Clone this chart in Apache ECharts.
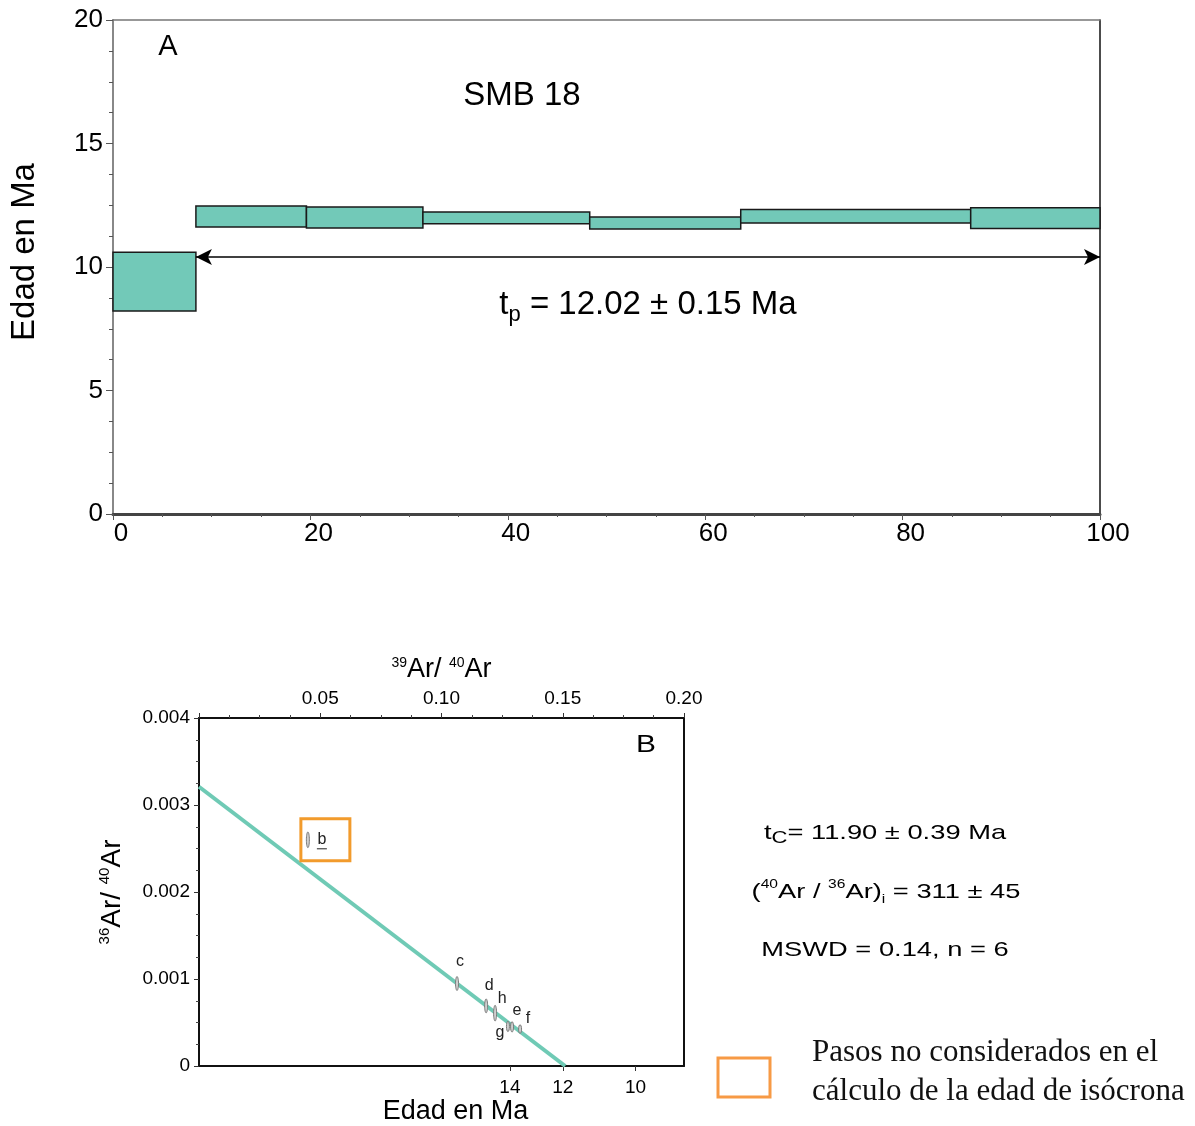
<!DOCTYPE html>
<html><head><meta charset="utf-8">
<script src="https://cdn.jsdelivr.net/npm/echarts@6/dist/echarts.min.js"></script>
<style>html,body{margin:0;padding:0;background:#fff}#c{width:1195px;height:1126px}</style>
</head><body><div id="c"></div>
<script>
// ---------- Panel A: age spectrum (cumulative %39Ar vs age) ----------
const stepStart = [0, 8.4, 19.6, 31.4, 48.3, 63.6, 86.9];
const stepEnd   = [8.4, 19.6, 31.4, 48.3, 63.6, 86.9, 100];
const ageLow    = [8.22, 11.62, 11.58, 11.75, 11.54, 11.78, 11.56];
const ageHigh   = [10.60, 12.47, 12.43, 12.23, 12.02, 12.33, 12.40];
const plateauFrom = 8.4;
const plateauTo = 100;
const plateauArrowAge = 10.4;

// ---------- Panel B: inverse isochron ----------
const stepLabels = ['b', 'c', 'd', 'h', 'g', 'e', 'f'];
const ar39ar40   = [0.0449, 0.1064, 0.1184, 0.1221, 0.1274, 0.1291, 0.1324];
const ar36ar40   = [0.00260, 0.000948, 0.000691, 0.000607, 0.000455, 0.000450, 0.000424];
const err39      = [0.0006, 0.0006, 0.0006, 0.0006, 0.0006, 0.0006, 0.0006];
const err36      = [0.00009, 0.00008, 0.00008, 0.00009, 0.00006, 0.00006, 0.00005];
const excludedSteps = ['b'];
const isochronX = [0, 0.151];
const isochronY = [0.00321, 0];
const ageTickLabels = ['14', '12', '10'];
const ageTickRatios = [0.1282, 0.150, 0.180];

const FONT = 'Liberation Sans, Arial, sans-serif';
const TEAL = '#72c9b8';

// label placement (pixel offsets from ellipse centre)
const labelOffset = { b: [14, 0], c: [3, -22], d: [3, -20], h: [7, -15], g: [-8, 6], e: [5, -16], f: [8, -11] };

const stepData = stepStart.map((s, i) => [s, stepEnd[i], ageLow[i], ageHigh[i]]);
const pointData = stepLabels.map((l, i) => [ar39ar40[i], ar36ar40[i], err39[i], err36[i], i]);
const isoData = isochronX.map((x, i) => [x, isochronY[i]]);

const chart = echarts.init(document.getElementById('c'));
const option = {
  animation: false,
  backgroundColor: '#fff',
  grid: [
    { left: 112, top: 20, width: 988, height: 494 },
    { left: 199, top: 718, width: 485, height: 349 }
  ],
  xAxis: [
    { gridIndex: 0, type: 'value', min: 0, max: 100, interval: 20, position: 'bottom',
      axisLine: { onZero: false, lineStyle: { color: '#444', width: 3 } },
      axisTick: { length: 6, lineStyle: { color: '#555' } },
      minorTick: { show: true, splitNumber: 4, length: 3, lineStyle: { color: '#555' } },
      axisLabel: { fontSize: 26, color: '#000', fontFamily: FONT, margin: 7, padding: [0, 0, 0, 16] },
      splitLine: { show: false } },
    { gridIndex: 0, type: 'value', min: 0, max: 100, position: 'top',
      axisLine: { onZero: false, lineStyle: { color: '#777', width: 1.5 } },
      axisTick: { show: false }, axisLabel: { show: false }, splitLine: { show: false } },
    { gridIndex: 1, type: 'value', min: 0, max: 0.2, interval: 0.05, position: 'top',
      name: '{sup|39}{b|Ar/ }{sup|40}{b|Ar}', nameLocation: 'middle', nameGap: 34,
      nameTextStyle: { rich: {
        b: { fontSize: 27, fontFamily: FONT, color: '#000', lineHeight: 28 },
        sup: { fontSize: 14, fontFamily: FONT, color: '#000', verticalAlign: 'top' } } },
      axisLine: { onZero: false, lineStyle: { color: '#111', width: 2 } },
      axisTick: { length: 5, lineStyle: { color: '#333' } },
      minorTick: { show: true, splitNumber: 4, length: 3, lineStyle: { color: '#444' } },
      axisLabel: { fontSize: 19, color: '#000', fontFamily: FONT, margin: 10,
        formatter: v => v === 0 ? '' : v.toFixed(2) },
      splitLine: { show: false } },
    { gridIndex: 1, type: 'value', min: 0, max: 0.2, position: 'bottom',
      name: 'Edad en Ma', nameLocation: 'middle', nameGap: 32,
      nameTextStyle: { fontSize: 27, fontFamily: FONT, color: '#000', padding: [0, 0, 0, 28] },
      axisLine: { onZero: false, lineStyle: { color: '#111', width: 2 } },
      axisTick: { customValues: ageTickRatios, length: 5, lineStyle: { color: '#333' } },
      axisLabel: { customValues: ageTickRatios, fontSize: 19, color: '#000', fontFamily: FONT, margin: 12,
        formatter: v => { const i = ageTickRatios.findIndex(r => Math.abs(r - v) < 1e-6); return i >= 0 ? ageTickLabels[i] : ''; } },
      splitLine: { show: false } }
  ],
  yAxis: [
    { gridIndex: 0, type: 'value', min: 0, max: 20, interval: 5,
      name: 'Edad en Ma', nameLocation: 'middle', nameGap: 72,
      nameTextStyle: { fontSize: 33, fontFamily: FONT, color: '#000', padding: [0, 0, 0, 30] },
      axisLine: { show: true, onZero: false, lineStyle: { color: '#888', width: 2 } },
      axisTick: { show: true, length: 7, lineStyle: { color: '#555' } },
      minorTick: { show: true, splitNumber: 4, length: 4, lineStyle: { color: '#555' } },
      axisLabel: { fontSize: 26, color: '#000', fontFamily: FONT, margin: 10 },
      splitLine: { show: false } },
    { gridIndex: 0, type: 'value', min: 0, max: 20, position: 'right',
      axisLine: { show: true, onZero: false, lineStyle: { color: '#111', width: 1.5 } },
      axisTick: { show: false }, axisLabel: { show: false }, splitLine: { show: false } },
    { gridIndex: 1, type: 'value', min: 0, max: 0.004, interval: 0.001,
      name: '{sup|36}{b|Ar/ }{sup|40}{b|Ar}', nameLocation: 'middle', nameGap: 72, nameRotate: 90,
      nameTextStyle: { rich: {
        b: { fontSize: 28, fontFamily: FONT, color: '#000', lineHeight: 30 },
        sup: { fontSize: 15, fontFamily: FONT, color: '#000', verticalAlign: 'top' } } },
      axisLine: { show: true, onZero: false, lineStyle: { color: '#111', width: 2 } },
      axisTick: { show: true, length: 5, lineStyle: { color: '#333' } },
      minorTick: { show: true, splitNumber: 4, length: 3, lineStyle: { color: '#444' } },
      axisLabel: { fontSize: 19, color: '#000', fontFamily: FONT, margin: 9,
        formatter: v => v === 0 ? '0' : v.toFixed(3) },
      splitLine: { show: false } },
    { gridIndex: 1, type: 'value', min: 0, max: 0.004, position: 'right',
      axisLine: { show: true, onZero: false, lineStyle: { color: '#111', width: 2 } },
      axisTick: { show: false }, axisLabel: { show: false }, splitLine: { show: false } }
  ],
  series: [
    { type: 'custom', xAxisIndex: 0, yAxisIndex: 0, data: stepData,
      encode: { x: [0, 1], y: [2, 3] },
      renderItem: (params, api) => {
        const p0 = api.coord([api.value(0), api.value(3)]);
        const p1 = api.coord([api.value(1), api.value(2)]);
        return { type: 'rect', shape: { x: p0[0], y: p0[1], width: p1[0] - p0[0], height: p1[1] - p0[1] },
          style: { fill: TEAL, stroke: '#1a1a1a', lineWidth: 1.5 } };
      },
      markLine: { silent: true, symbol: ['arrow', 'arrow'], symbolSize: [12, 16],
        lineStyle: { color: '#000', width: 1.5, type: 'solid' }, label: { show: false },
        data: [[{ coord: [plateauFrom, plateauArrowAge] }, { coord: [plateauTo, plateauArrowAge] }]] }
    },
    { type: 'line', xAxisIndex: 2, yAxisIndex: 2, data: isoData, symbol: 'none',
      lineStyle: { color: '#6fcab5', width: 4 }, z: 2 },
    { type: 'custom', xAxisIndex: 2, yAxisIndex: 2, data: pointData, z: 5,
      encode: { x: 0, y: 1 },
      renderItem: (params, api) => {
        const c = api.coord([api.value(0), api.value(1)]);
        const sz = api.size([api.value(2), api.value(3)]);
        const lab = stepLabels[api.value(4)];
        const off = labelOffset[lab];
        const children = [
          { type: 'ellipse', shape: { cx: c[0], cy: c[1], rx: Math.max(sz[0], 1.5), ry: sz[1] },
            style: { fill: '#cfcfcf', stroke: '#7a7a7a', lineWidth: 1 } },
          { type: 'text', x: c[0] + off[0], y: c[1] + off[1],
            style: { text: lab, fontSize: 16, fontFamily: FONT, fill: '#222', align: 'center', verticalAlign: 'middle' } }
        ];
        if (excludedSteps.includes(lab)) {
          children.push({ type: 'line', shape: { x1: c[0] + off[0] - 5, y1: c[1] + 9, x2: c[0] + off[0] + 5, y2: c[1] + 9 },
            style: { stroke: '#222', lineWidth: 1 } });
          children.push({ type: 'rect', shape: { x: c[0] - 7, y: c[1] - 21, width: 49, height: 42 },
            style: { fill: 'none', stroke: '#f29b2c', lineWidth: 3 } });
        }
        return { type: 'group', children };
      }
    }
  ],
  graphic: [
    { type: 'text', x: 168, y: 47, style: { text: 'A', fontSize: 29, fontFamily: FONT, fill: '#000', align: 'center', verticalAlign: 'middle' } },
    { type: 'text', x: 522, y: 96, style: { text: 'SMB 18', fontSize: 33, fontFamily: FONT, fill: '#000', align: 'center', verticalAlign: 'middle' } },
    { type: 'text', x: 648, y: 305, style: { text: '{b|t}{sub|p}{b| = 12.02 ± 0.15 Ma}', align: 'center', verticalAlign: 'middle',
        rich: { b: { fontSize: 33, fontFamily: FONT, fill: '#000', lineHeight: 42 },
                sub: { fontSize: 22, fontFamily: FONT, fill: '#000', verticalAlign: 'bottom' } } } },
    { type: 'text', x: 646, y: 746, scaleX: 1.3, style: { text: 'B', fontSize: 23, fontFamily: FONT, fill: '#000', align: 'center', verticalAlign: 'middle' } },
    { type: 'text', x: 885, y: 833, scaleX: 1.3, style: { text: '{b|t}{sub|C}{b|= 11.90 ± 0.39 Ma}', align: 'center', verticalAlign: 'middle',
        rich: { b: { fontSize: 21, fontFamily: FONT, fill: '#000', lineHeight: 27 },
                sub: { fontSize: 17, fontFamily: FONT, fill: '#000', verticalAlign: 'bottom' } } } },
    { type: 'text', x: 886, y: 892, scaleX: 1.3, style: { text: '{b|(}{sup|40}{b|Ar / }{sup|36}{b|Ar)}{sub|i}{b| = 311 ± 45}', align: 'center', verticalAlign: 'middle',
        rich: { b: { fontSize: 21, fontFamily: FONT, fill: '#000', lineHeight: 27 },
                sup: { fontSize: 12, fontFamily: FONT, fill: '#000', verticalAlign: 'top' },
                sub: { fontSize: 12, fontFamily: FONT, fill: '#000', verticalAlign: 'bottom' } } } },
    { type: 'text', x: 885, y: 950, scaleX: 1.3, style: { text: 'MSWD = 0.14, n = 6', fontSize: 21, fontFamily: FONT, fill: '#000', align: 'center', verticalAlign: 'middle' } },
    { type: 'rect', shape: { x: 718, y: 1058, width: 52, height: 39 }, style: { fill: 'none', stroke: '#f79a45', lineWidth: 3 } },
    { type: 'text', x: 812, y: 1053, style: { text: 'Pasos no considerados en el', fontSize: 31, fontFamily: 'Liberation Serif, serif', fill: '#111', align: 'left', verticalAlign: 'middle' } },
    { type: 'text', x: 812, y: 1092, style: { text: 'cálculo de la edad de isócrona', fontSize: 31, fontFamily: 'Liberation Serif, serif', fill: '#111', align: 'left', verticalAlign: 'middle' } }
  ]
};
chart.setOption(option);
</script>
</body></html>
